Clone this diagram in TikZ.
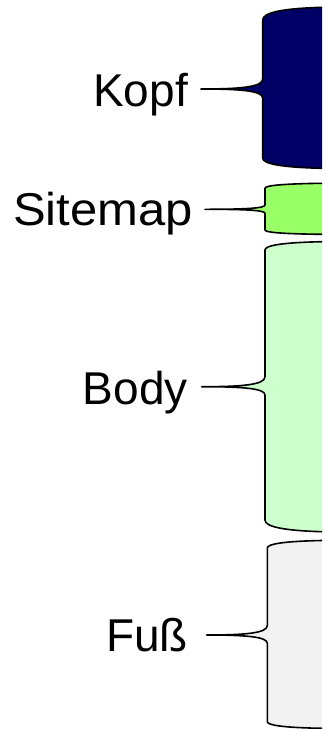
\documentclass[tikz,border=0pt]{standalone}
\usepackage{graphicx}
\usepackage{fontspec}
\setmainfont{Liberation Sans}
\definecolor{kopfc}{RGB}{0,0,102}
\definecolor{sitemapc}{RGB}{153,255,102}
\definecolor{bodyc}{RGB}{204,255,204}
\definecolor{fussc}{RGB}{242,242,242}
% #1 L, #2 T, #3 Tv, #4 Cu, #5 tip, #6 M, #7 Cl, #8 Bv, #9 B
\newcommand\mybracepath[9]{%
  (340,{#2}) -- (322,{#2})
  .. controls ({#1+17},{#2+0.1*(#3-#2)}) and ({#1},{#3-0.55*(#3-#2)}) .. ({#1},{#3})
  -- ({#1},{#4})
  .. controls ({#1},{#4+0.8*(#6-#4)}) and ({#1-22},{#6}) .. ({#5},{#6})
  .. controls ({#1-22},{#6}) and ({#1},{#7-0.8*(#7-#6)}) .. ({#1},{#7})
  -- ({#1},{#8})
  .. controls ({#1},{#8+0.55*(#9-#8)}) and ({#1+17},{#9-0.1*(#9-#8)}) .. (322,{#9})
  -- (340,{#9}) -- cycle}
\begin{document}
\begin{tikzpicture}[x=1pt,y=-1pt,
  brace/.style={draw=black,line width=1.6pt,line join=round},
  lbl/.style={anchor=base east,inner sep=0pt,font=\fontsize{46}{50}\selectfont}]
\useasboundingbox (0,0) rectangle (322,729);
\begin{scope}
\clip (0,0) rectangle (322,729);
\draw[brace,fill=kopfc] \mybracepath{262.7}{7.3}{20}{79}{201}{89}{98}{158}{168.3};
\draw[brace,fill=sitemapc] \mybracepath{265}{183.3}{188.3}{205}{205}{209.3}{213.3}{230}{234.3};
\draw[brace,fill=bodyc] \mybracepath{265}{241.7}{250}{376.7}{201.7}{386.7}{395}{520}{531.7};
\draw[brace,fill=fussc] \mybracepath{267.3}{540.5}{548}{625.5}{206.7}{635}{643.3}{721.7}{728.3};
\end{scope}
\node[lbl] (kopf) at (188,106.7) {Kopf};
\node[lbl] (sitemap) at (193,225.7) {\scalebox{1.065}[1]{Sitemap}};
\node[lbl] (body) at (188,404) {Body};
\node[lbl] (fuss) at (188,651.7) {Fuß};
\end{tikzpicture}
\end{document}
